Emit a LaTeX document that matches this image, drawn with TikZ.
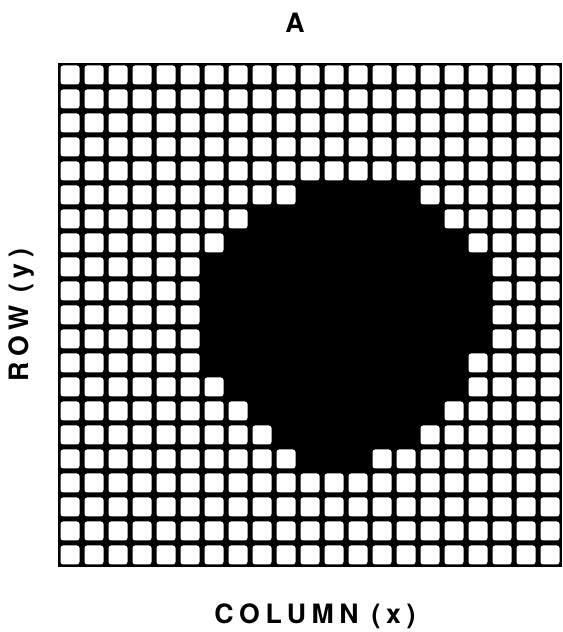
\documentclass[tikz,border=0pt]{standalone}
\usepackage{fontspec}
\newfontfamily\labelfont[LetterSpace=21]{TeX Gyre Heros}
\usetikzlibrary{positioning}

\begin{document}
\begin{tikzpicture}[x=0.75pt, y=0.75pt,
  cell/.style={fill=white, rounded corners=2pt},
  blob/.style={fill=black},
  lbl/.style={font=\labelfont\bfseries\fontsize{20}{20}\selectfont, inner sep=0pt}
]
\useasboundingbox (0,0) rectangle (562,632);
% --- grid of 21 x 21 pixels ---------------------------------------------
\fill[black] (58,65) rectangle (562,569);
\foreach \c in {0,...,20}
  \foreach \r in {0,...,20}
    \fill[cell] (60.5+24*\c, 566.5-24*\r) rectangle ++(19,-19);

% --- blob, filled row by row (row/first/last column) --------------------
\foreach \r/\a/\b in {5/10/14, 6/8/15, 7/7/16, 8/6/17, 9/6/17, 10/6/17,
                      11/6/17, 12/6/16, 13/7/16, 14/8/15, 15/9/14, 16/10/12}
  \fill[blob] (58+24*\a, 569-24*\r) rectangle (82+24*\b, 545-24*\r);

% --- labels -------------------------------------------------------------
\node[lbl] (title)  at (295,609) {A};
\node[lbl] (xlabel) at (315,16)  {COLUMN (x)};
\node[lbl, rotate=90] (ylabel) at (22,317) {ROW (y)};
\end{tikzpicture}
\end{document}
